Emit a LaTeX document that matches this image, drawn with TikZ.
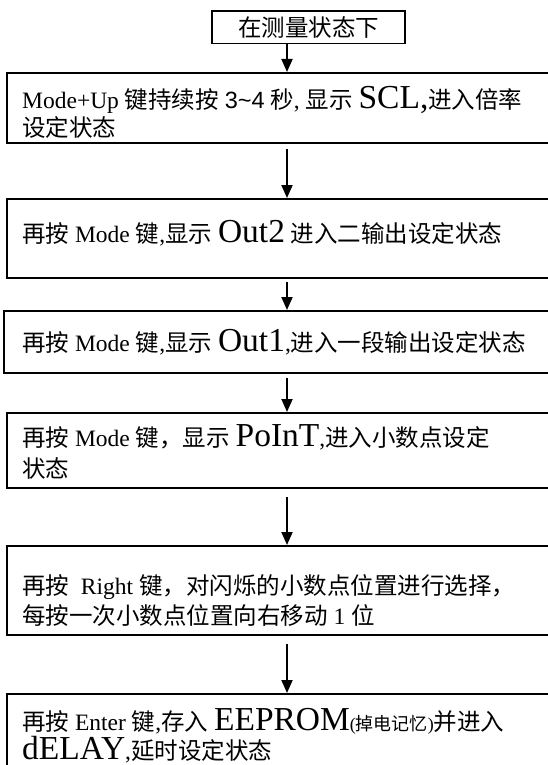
\documentclass[tikz,border=0pt]{standalone}
\usepackage{fontspec}
\setmainfont{Liberation Serif}
\newfontfamily\cjk{Noto Sans CJK SC}
\newfontfamily\arial{Liberation Sans}
\usetikzlibrary{arrows.meta,positioning}

\newcommand{\zh}[1]{{\cjk #1}}
\newcommand{\disp}[1]{{\fontsize{33.5}{33.5}\selectfont #1}}
\newcommand{\smallzh}[1]{{\fontsize{18}{18}\selectfont #1}}

\tikzset{
  box/.style={draw, line width=1.8pt, anchor=north west, inner sep=0pt},
  txt/.style={anchor=base west, inner sep=0pt, font=\fontsize{23.5}{26}\selectfont},
  arr/.style={line width=1.8pt, -{Triangle[width=11pt,length=13pt]}},
}

\begin{document}
\begin{tikzpicture}[x=1pt,y=-1pt]
\useasboundingbox[fill=white] (0,0) rectangle (547,765);

% start
\node[box, anchor=center, minimum width=193pt, minimum height=32.5pt,
      font=\fontsize{23.5}{26}\selectfont] (start) at (308.5,27.3) {\zh{在测量状态下}};

% steps
\foreach \name/\x/\top/\h in {b1/6/72/70, b2/6/198/79, b3/3/310/62,
                              b4/6/412/75, b5/6/545/89, b6/6/693/90}
  \node[box, minimum width=556pt, minimum height=\h] (\name) at (\x,\top) {};

% texts
\node[txt] (t1a) at (22,109) {Mode+Up \zh{键持续按} {\arial 3\textasciitilde 4} \zh{秒}, \zh{显示} \disp{SCL,}\zh{进入倍率}};
\node[txt] (t1b) at (22,136) {\zh{设定状态}};
\node[txt] (t2) at (22,242) {\zh{再按} Mode \zh{键},\zh{显示} \disp{Out2} \zh{进入二输出设定状态}};
\node[txt] (t3) at (22,351) {\zh{再按} Mode \zh{键},\zh{显示} \disp{Out1},\zh{进入一段输出设定状态}};
\node[txt] (t4a) at (22,446) {\zh{再按} Mode \zh{键，显示} \disp{PoInT},\zh{进入小数点设定}};
\node[txt] (t4b) at (22,477) {\zh{状态}};
\node[txt] (t5a) at (22,594) {\zh{再按} \ Right \zh{键，对闪烁的小数点位置进行选择，}};
\node[txt] (t5b) at (22,624) {\zh{每按一次小数点位置向右移动} 1 \zh{位}};
\node[txt] (t6a) at (22,730) {\zh{再按} Enter \zh{键},\zh{存入} \disp{EEPROM}\smallzh{(\zh{掉电记忆})}\zh{并进入}};
\node[txt] (t6b) at (22,759) {\disp{dELAY},\zh{延时设定状态}};

% arrows
\coordinate (ax) at (287,0);
\draw[arr] (start.south -| ax) -- (b1.north -| ax);
\draw[arr] ([yshift=-5pt]b1.south -| ax) -- (b2.north -| ax);
\draw[arr] ([yshift=-3pt]b2.south -| ax) -- (b3.north -| ax);
\draw[arr] ([yshift=-4pt]b3.south -| ax) -- (b4.north -| ax);
\draw[arr] ([yshift=-8pt]b4.south -| ax) -- (b5.north -| ax);
\draw[arr] ([yshift=-8pt]b5.south -| ax) -- (b6.north -| ax);
\end{tikzpicture}
\end{document}
